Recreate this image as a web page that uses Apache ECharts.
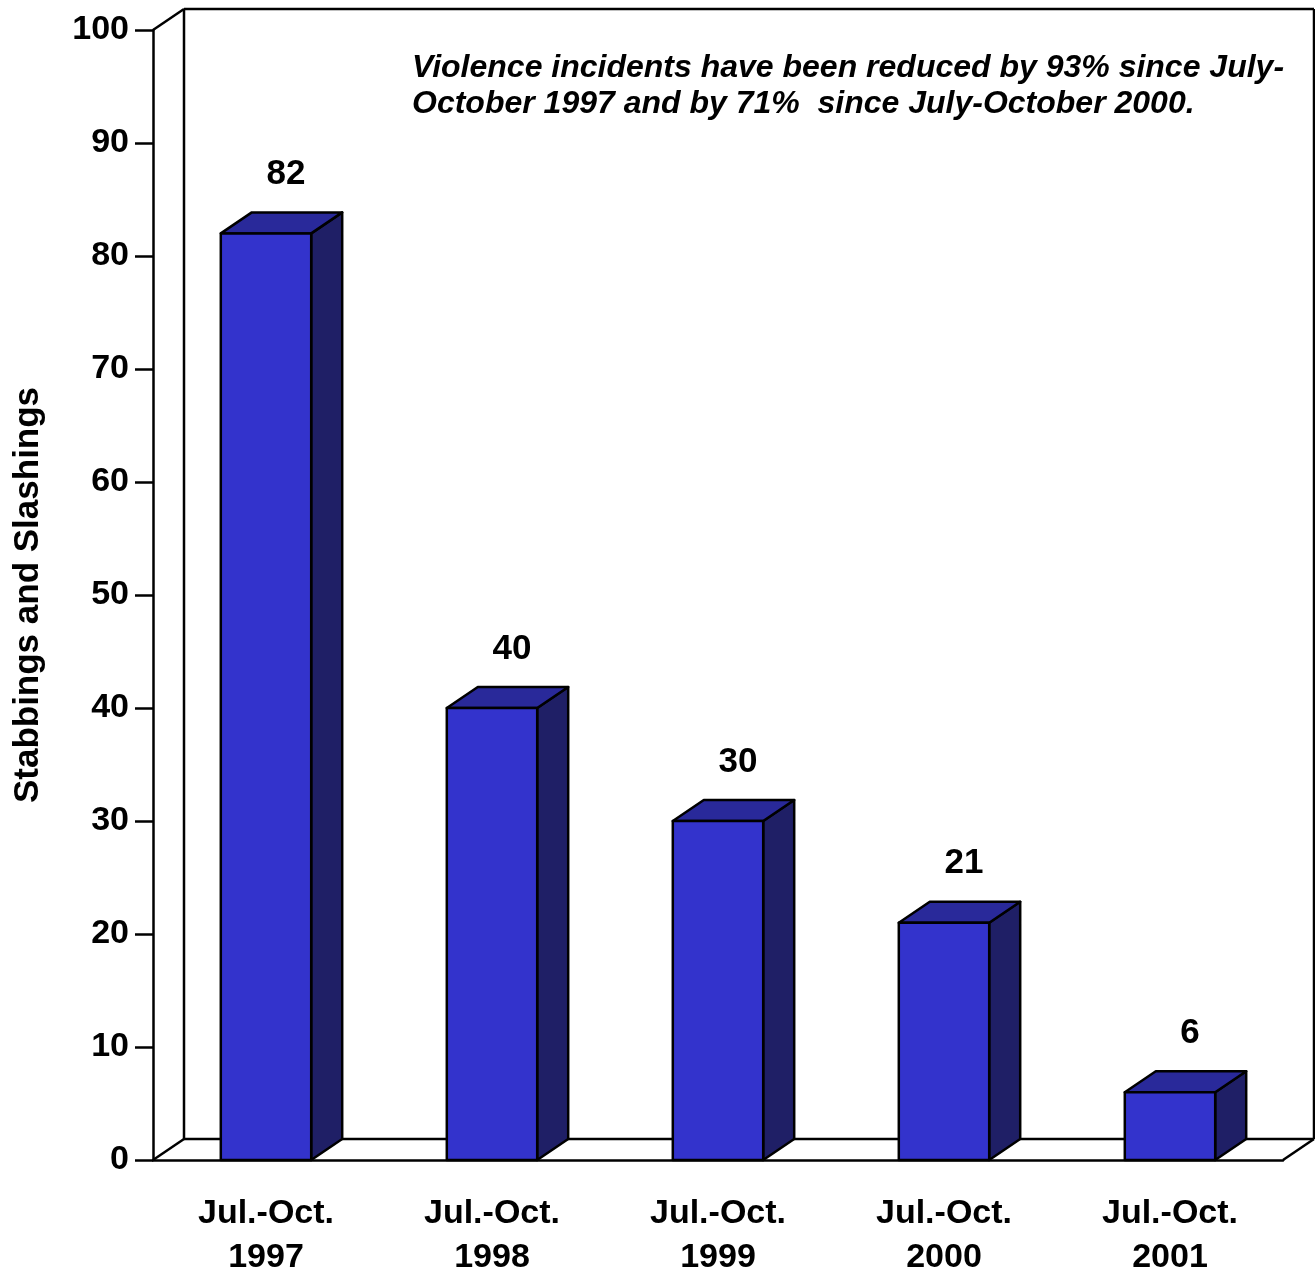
<!DOCTYPE html>
<html>
<head>
<meta charset="utf-8">
<script src="https://cdn.jsdelivr.net/npm/echarts@6/dist/echarts.min.js"></script>
<style>
html,body{margin:0;padding:0;background:#fff;}
#chart{width:1315px;height:1270px;}
</style>
</head>
<body>
<div id="chart"></div>
<script>
const categories = ['Jul.-Oct.\n1997', 'Jul.-Oct.\n1998', 'Jul.-Oct.\n1999', 'Jul.-Oct.\n2000', 'Jul.-Oct.\n2001'];
const values = [82, 40, 30, 21, 6];
const yMin = 0, yMax = 100, yInterval = 10;
const yAxisName = 'Stabbings and Slashings';
const annotation = 'Violence incidents have been reduced by 93% since July-\nOctober 1997 and by 71%  since July-October 2000.';

const FONT = '"Liberation Sans", Arial, sans-serif';
const DX = 31, DY = 21;
const FRONT = '#3333CC', TOP = '#29299A', SIDE = '#1F1F66';

const chart = echarts.init(document.getElementById('chart'));

function frameItem(params, api) {
  const cs = params.coordSys;
  const L = cs.x, T = cs.y, R = cs.x + cs.width, B = cs.y + cs.height;
  const st = {stroke: '#000', lineWidth: 2.5, fill: null};
  const seg = (a, b) => ({type: 'line', shape: {x1: a[0], y1: a[1], x2: b[0], y2: b[1]}, style: st});
  return {
    type: 'group',
    children: [
      seg([L + DX, T - DY], [L + DX, B - DY]),
      seg([L + DX, T - DY], [R + DX, T - DY]),
      seg([R + DX, T - DY], [R + DX, B - DY]),
      seg([L + DX, B - DY], [R + DX, B - DY]),
      seg([L, B], [L + DX, B - DY]),
      seg([R, B], [R + DX, B - DY]),
      seg([L, T], [L + DX, T - DY])
    ]
  };
}

function barItem(params, api) {
  const idx = api.value(0), v = api.value(1);
  const base = api.coord([idx, 0]);
  const top = api.coord([idx, v]);
  const w = api.size([1, 0])[0] * 0.4;
  const x0 = base[0] - w / 2, x1 = base[0] + w / 2, y0 = top[1], y1 = base[1];
  const st = (fill) => ({fill: fill, stroke: '#000', lineWidth: 2.5, lineJoin: 'round'});
  return {
    type: 'group',
    children: [
      {type: 'polygon', shape: {points: [[x1, y0], [x1 + DX, y0 - DY], [x1 + DX, y1 - DY], [x1, y1]]}, style: st(SIDE)},
      {type: 'polygon', shape: {points: [[x0, y0], [x1, y0], [x1 + DX, y0 - DY], [x0 + DX, y0 - DY]]}, style: st(TOP)},
      {type: 'rect', shape: {x: x0, y: y0, width: w, height: y1 - y0}, style: st(FRONT)},
      {type: 'text', x: base[0] + 20, y: y0 - DY - 38,
        style: {text: String(v), fill: '#000', font: 'bold 35px ' + FONT, textAlign: 'center', textVerticalAlign: 'middle'}}
    ]
  };
}

chart.setOption({
  animation: false,
  backgroundColor: '#fff',
  title: {
    text: annotation,
    left: 407, top: 45,
    textStyle: {fontFamily: FONT, fontStyle: 'italic', fontWeight: 'bold', fontSize: 32, lineHeight: 36, color: '#000'}
  },
  grid: {left: 153, right: 32, top: 30, bottom: 110, containLabel: false, outerBoundsMode: 'none'},
  xAxis: {
    type: 'category',
    data: categories,
    axisLine: {lineStyle: {color: '#000', width: 2.5}},
    axisTick: {length: 18, lineStyle: {color: '#000', width: 2.5}},
    axisLabel: {interval: 0, margin: 32, lineHeight: 44, color: '#000', fontFamily: FONT, fontWeight: 'bold', fontSize: 34},
    splitLine: {show: false}
  },
  yAxis: {
    type: 'value',
    min: yMin, max: yMax, interval: yInterval,
    name: yAxisName,
    nameLocation: 'middle',
    nameRotate: 90,
    nameGap: 107,
    nameTextStyle: {color: '#000', fontFamily: FONT, fontWeight: 'bold', fontSize: 35},
    axisLine: {show: true, lineStyle: {color: '#000', width: 2.5}},
    axisTick: {show: true, length: 18, lineStyle: {color: '#000', width: 2.5}},
    axisLabel: {margin: 24, color: '#000', fontFamily: FONT, fontWeight: 'bold', fontSize: 34},
    splitLine: {show: false}
  },
  series: [
    {type: 'custom', renderItem: frameItem, data: [[0, 0]], z: 1, silent: true},
    {type: 'custom', renderItem: barItem, data: values.map((v, i) => [i, v]), z: 3}
  ]
});
</script>
</body>
</html>
